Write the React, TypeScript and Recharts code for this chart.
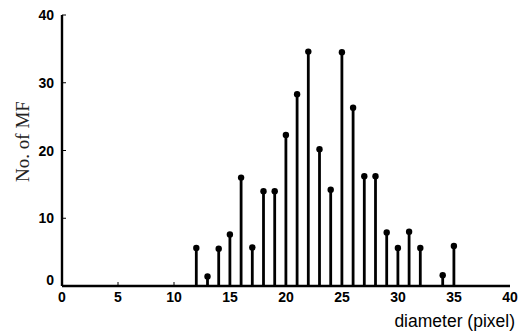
import React from "react";
import { ComposedChart, Bar, XAxis, YAxis, Label } from "recharts";

const diameters = [12, 13, 14, 15, 16, 17, 18, 19, 20, 21, 22, 23, 24, 25, 26, 27, 28, 29, 30, 31, 32, 34, 35];
const counts = [5.6, 1.4, 5.5, 7.6, 16.0, 5.7, 14.0, 14.0, 22.3, 28.3, 34.6, 20.2, 14.2, 34.5, 26.3, 16.2, 16.2, 7.9, 5.6, 8.0, 5.6, 1.6, 5.9];
const xTicks = [0, 5, 10, 15, 20, 25, 30, 35, 40];
const yTicks = [0, 10, 20, 30, 40];

const data = diameters.map((d, i) => ({ d, n: counts[i] }));

const tickFont = { fontFamily: "Liberation Sans, Arial, sans-serif", fontWeight: 700, fontSize: 14, fill: "#000" };

// stem with a round head
const Stem = (props: any) => {
  const { x, y, width, height } = props;
  const cx = x + width / 2;
  return (
    <g>
      <line x1={cx} y1={y} x2={cx} y2={y + height} stroke="#000" strokeWidth={2.8} />
      <circle cx={cx} cy={y} r={3.2} fill="#000" />
    </g>
  );
};

const YTick = (props: any) => {
  const { x, y, payload } = props;
  return (
    <g>
      <line x1={x + 8} y1={y} x2={x + 12} y2={y} stroke="#000" strokeWidth={1} />
      <text x={x} y={y} dy={payload.value === 0 ? -1 : 5} textAnchor="end" style={tickFont}>
        {payload.value}
      </text>
    </g>
  );
};

const XTick = (props: any) => {
  const { x, y, payload } = props;
  return (
    <g>
      {payload.value > 0 && payload.value < 40 && (
        <line x1={x} y1={y - 8} x2={x} y2={y - 12} stroke="#000" strokeWidth={1} />
      )}
      <text x={x} y={y} dy={8} textAnchor="middle" style={tickFont}>
        {payload.value}
      </text>
    </g>
  );
};

const XTitle = (props: any) => {
  const { viewBox } = props;
  return (
    <text
      x={viewBox.x + viewBox.width + 5}
      y={viewBox.y + 41}
      textAnchor="end"
      style={{ fontFamily: "Liberation Sans, Arial, sans-serif", fontSize: 17.5, fill: "#000" }}
    >
      diameter (pixel)
    </text>
  );
};

const YTitle = (props: any) => {
  const { viewBox } = props;
  const x = viewBox.x + 22;
  const y = viewBox.y + viewBox.height / 2 - 9;
  return (
    <text
      x={x}
      y={y}
      transform={`rotate(-90 ${x} ${y})`}
      textAnchor="middle"
      dominantBaseline="central"
      style={{ fontFamily: "Liberation Serif, Times New Roman, serif", fontSize: 19, fill: "#222" }}
    >
      No. of MF
    </text>
  );
};

export default function App() {
  return (
    <div style={{ position: "absolute", left: 0, top: 0, background: "#fff" }}>
      <ComposedChart width={518} height={334} data={data} margin={{ top: 15, right: 8, left: 0, bottom: 0 }}>
        <XAxis
          dataKey="d"
          type="number"
          domain={[0, 40]}
          ticks={xTicks}
          interval={0}
          tickSize={0}
          tickMargin={8}
          tick={<XTick />}
          axisLine={{ stroke: "#000", strokeWidth: 2.4 }}
          height={48}
        >
          <Label content={<XTitle />} />
        </XAxis>
        <YAxis
          type="number"
          domain={[0, 40]}
          ticks={yTicks}
          interval={0}
          tickSize={0}
          tickMargin={8}
          tick={<YTick />}
          axisLine={{ stroke: "#000", strokeWidth: 2.4 }}
          width={62}
        >
          <Label content={<YTitle />} />
        </YAxis>
        <Bar dataKey="n" barSize={3} shape={<Stem />} isAnimationActive={false} />
      </ComposedChart>
    </div>
  );
}
